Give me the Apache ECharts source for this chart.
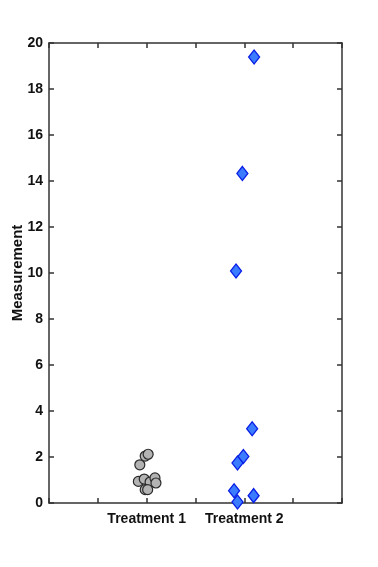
<!DOCTYPE html>
<html><head><meta charset="utf-8">
<script src="https://cdn.jsdelivr.net/npm/echarts@6/dist/echarts.min.js"></script>
<style>html,body{margin:0;padding:0;background:#fff}#c{width:378px;height:567px}</style>
</head><body><div id="c"></div>
<script>
var categories = ['Treatment 1', 'Treatment 2'];
var categoryPositions = [2, 4];
var yTicks = [0, 2, 4, 6, 8, 10, 12, 14, 16, 18, 20];
var t1X = [1.83, 1.95, 2.07, 2.17, 2.19, 1.97, 2.02, 1.86, 1.97, 2.03];
var t1Y = [0.94, 1.04, 0.91, 1.09, 0.87, 0.58, 0.58, 1.66, 2.04, 2.12];
var t2X = [4.2, 3.96, 3.83, 4.16, 3.98, 3.86, 3.79, 3.86, 4.19];
var t2Y = [19.39, 14.33, 10.09, 3.23, 2.02, 1.74, 0.53, 0.04, 0.32];

function pairs(xs, ys){ return xs.map(function(x,i){ return [x, ys[i]]; }); }
var axisCol = '#333';
var font = '"Liberation Sans", Arial, sans-serif';
var lineCommon = {show: true, onZero: false, lineStyle: {color: axisCol, width: 1.5}};
var tickCommon = {show: true, inside: true, length: 5, lineStyle: {color: axisCol, width: 1.5}};
var chart = echarts.init(document.getElementById('c'));
chart.setOption({
  animation: false,
  grid: {left: 49, right: 36, top: 43, bottom: 64, containLabel: false, outerBoundsMode: 'none'},
  xAxis: [{
    type: 'value', min: 0, max: 6, interval: 1, position: 'bottom',
    axisLine: lineCommon, axisTick: tickCommon, splitLine: {show: false},
    axisLabel: {color: '#111', fontFamily: font, fontWeight: 'bold', fontSize: 14, margin: 9,
      formatter: function(v){ var i = categoryPositions.indexOf(v); return i >= 0 ? categories[i] : ''; }}
  }, {
    type: 'value', min: 0, max: 6, interval: 1, position: 'top',
    axisLine: lineCommon, axisTick: tickCommon, splitLine: {show: false}, axisLabel: {show: false}
  }],
  yAxis: [{
    type: 'value', min: 0, max: 20, interval: 2, position: 'left',
    name: 'Measurement', nameLocation: 'middle', nameGap: 24, nameMoveOverlap: false,
    nameTextStyle: {color: '#111', fontFamily: font, fontWeight: 'bold', fontSize: 15},
    axisLine: lineCommon, axisTick: tickCommon, splitLine: {show: false},
    axisLabel: {color: '#111', fontFamily: font, fontWeight: 'bold', fontSize: 14, margin: 6,
      formatter: function(v){ return yTicks.indexOf(v) >= 0 ? String(v) : ''; }}
  }, {
    type: 'value', min: 0, max: 20, interval: 2, position: 'right',
    axisLine: lineCommon, axisTick: tickCommon, splitLine: {show: false}, axisLabel: {show: false}
  }],
  series: [{
    type: 'scatter', xAxisIndex: 0, yAxisIndex: 0,
    data: pairs(t1X, t1Y), symbol: 'circle', symbolSize: 10,
    itemStyle: {color: '#b3b3b3', borderColor: '#2a2a2a', borderWidth: 1.2, opacity: 1}
  }, {
    type: 'scatter', xAxisIndex: 0, yAxisIndex: 0,
    data: pairs(t2X, t2Y), symbol: 'diamond', symbolSize: [11, 14],
    itemStyle: {color: '#3a7bff', borderColor: '#0a1ee6', borderWidth: 1.3, opacity: 1}
  }, {
    type: 'scatter', xAxisIndex: 1, yAxisIndex: 1, data: [], silent: true
  }]
});
</script></body></html>
